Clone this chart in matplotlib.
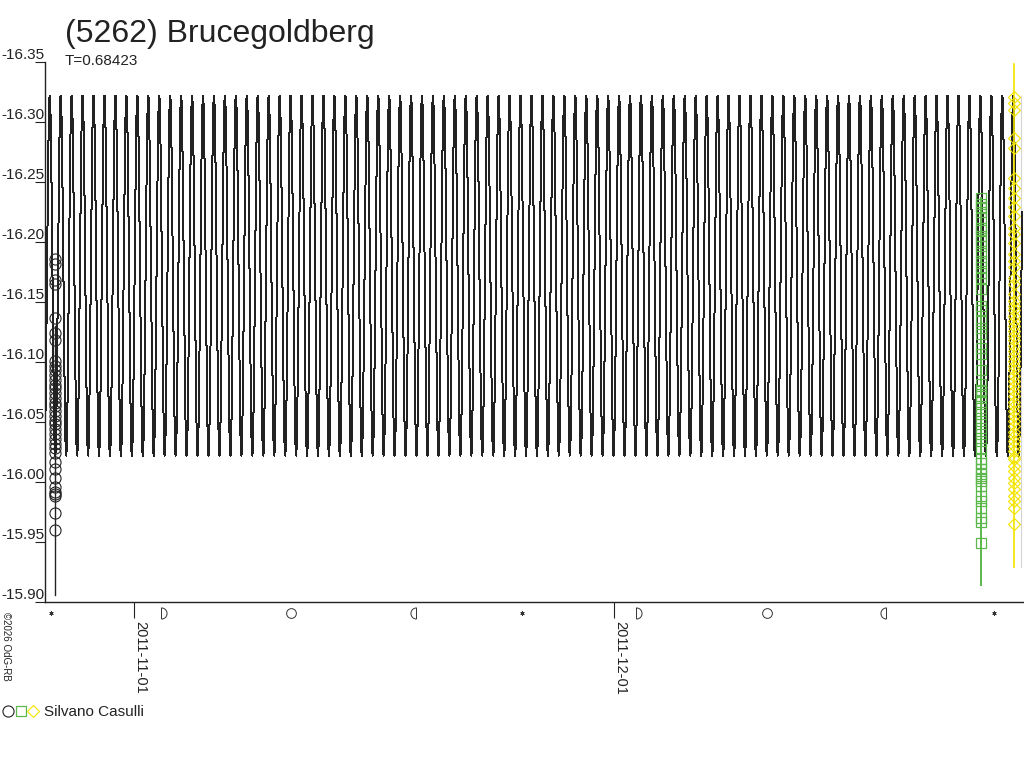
import numpy as np
import matplotlib
matplotlib.use('Agg')
import matplotlib.pyplot as plt
import matplotlib.dates as mdates
from matplotlib.path import Path
from matplotlib.transforms import blended_transform_factory
from matplotlib.legend_handler import HandlerTuple
from datetime import datetime

# ---- data -------------------------------------------------------------
title = '(5262) Brucegoldberg'
period = 0.68423            # days, shown as T=
model_mean = -16.172
model_amp = 0.150
model_start = datetime(2011, 10, 26, 11, 0)
model_end = datetime(2011, 12, 26, 12, 30)

# session dates
date_black = datetime(2011, 10, 27, 1, 50)
date_green = datetime(2011, 12, 23, 23, 0)
date_yellow = datetime(2011, 12, 26, 0, 40)
date_gray = datetime(2011, 12, 26, 10, 30)

mag_black = [-16.186, -16.182, -16.168, -16.165, -16.137, -16.124, -16.118,
             -16.101, -16.097, -16.093, -16.089, -16.085, -16.081, -16.078,
             -16.074, -16.070, -16.066, -16.063, -16.059, -16.055, -16.051,
             -16.048, -16.044, -16.040, -16.036, -16.032, -16.028, -16.024,
             -16.017, -16.011, -16.003, -15.996, -15.992, -15.990, -15.988,
             -15.974, -15.960]
mag_green = [-16.237, -16.232, -16.229, -16.225, -16.220, -16.212, -16.210,
             -16.205, -16.201, -16.197, -16.191, -16.184, -16.179, -16.174,
             -16.170, -16.161, -16.147, -16.143, -16.134, -16.128, -16.123,
             -16.112, -16.107, -16.093, -16.082, -16.077, -16.076, -16.072,
             -16.067, -16.062, -16.057, -16.051, -16.045, -16.040, -16.034,
             -16.028, -16.019, -16.016, -16.011, -16.007, -16.003, -16.001,
             -15.997, -15.988, -15.984, -15.978, -15.970, -15.967, -15.949]
mag_yellow = [-16.321, -16.316, -16.310, -16.287, -16.278, -16.253, -16.245,
              -16.237, -16.229, -16.222, -16.212, -16.207, -16.199, -16.190,
              -16.184, -16.179, -16.170, -16.165, -16.157, -16.151, -16.147,
              -16.143, -16.138, -16.134, -16.130, -16.126, -16.122, -16.118,
              -16.113, -16.109, -16.105, -16.101, -16.097, -16.093, -16.088,
              -16.084, -16.080, -16.076, -16.072, -16.067, -16.063, -16.059,
              -16.055, -16.051, -16.047, -16.042, -16.038, -16.034, -16.030,
              -16.026, -16.021, -16.019, -16.013, -16.009, -16.003, -15.999,
              -15.994, -15.988, -15.984, -15.978, -15.965]
# vertical extent of each session's line
span_black = [-16.130, -15.906]
span_green = [-16.237, -15.914]
span_yellow = [-16.348, -15.929]
span_gray = [-16.322, -15.929]

observer = 'Silvano Casulli'

# moon phases (UTC)
moon_new = [datetime(2011, 10, 26, 19, 56), datetime(2011, 11, 25, 6, 10),
            datetime(2011, 12, 24, 18, 6)]
moon_fq = [datetime(2011, 11, 2, 16, 38), datetime(2011, 12, 2, 9, 52)]
moon_full = [datetime(2011, 11, 10, 20, 16), datetime(2011, 12, 10, 14, 36)]
moon_lq = [datetime(2011, 11, 18, 15, 9), datetime(2011, 12, 18, 0, 48)]

xticks = [datetime(2011, 11, 1), datetime(2011, 12, 1)]
yticks = [-16.35, -16.30, -16.25, -16.20, -16.15, -16.10, -16.05, -16.00, -15.95, -15.90]

# ---- plot ----------------------------------------------------------------
plt.rcParams['font.family'] = ['Liberation Sans', 'DejaVu Sans']
ink = '#222222'

fig = plt.figure(figsize=(10.24, 7.68), dpi=100)
ax = fig.add_axes([45/1024, 1-602/768, 1-45/1024, 540/768])

# model lightcurve
t0 = mdates.date2num(model_start)
t1 = mdates.date2num(model_end)
tm = np.arange(t0, t1, 0.004)
ax.plot(tm, model_mean + model_amp*np.sin(2*np.pi*(tm - t0)/period + 2.0),
        color=ink, lw=0.72, antialiased=False, zorder=2)

# session lines
ax.plot([date_gray]*2, span_gray, color='#d4d4d4', lw=0.8, zorder=1)
ax.plot([date_black]*2, span_black, color=ink, lw=1.0, zorder=3)
ax.plot([date_green]*2, span_green, color='#5cb84a', lw=1.4, zorder=3)
ax.plot([date_yellow]*2, span_yellow, color='#f2e400', lw=1.2, zorder=3)

# observations
h1, = ax.plot([date_black]*len(mag_black), mag_black, 'o', ms=8, mfc='none',
              mec=ink, mew=0.8, zorder=4)
h2, = ax.plot([date_green]*len(mag_green), mag_green, 's', ms=6.5, mfc='none',
              mec='#5cb84a', mew=0.9, zorder=4)
h3, = ax.plot([date_yellow]*len(mag_yellow), mag_yellow, 'D', ms=6.5, mfc='none',
              mec='#f2e400', mew=0.8, zorder=4)

ax.set_xlim(model_start, datetime(2011, 12, 26, 15, 20))
ax.set_ylim(-15.90, -16.35)

# moon phase symbols below the axis
th = np.linspace(-90, 90, 25)
fq_path = Path(np.vstack([np.column_stack([np.cos(np.radians(th)), np.sin(np.radians(th))]),
                          [[0, 1], [0, -1]]]))
lq_path = Path(np.vstack([np.column_stack([-np.cos(np.radians(th)), np.sin(np.radians(th))]),
                          [[0, 1], [0, -1]]]))
trans = blended_transform_factory(ax.transData, ax.transAxes)
ym = -11/540
ax.plot(moon_new, [ym]*len(moon_new), marker=(6, 2, 0), ms=3, lw=0, color='#333333',
        mew=0.6, transform=trans, clip_on=False)
ax.plot(moon_fq, [ym]*len(moon_fq), marker=fq_path, ms=8, lw=0, mfc='none',
        mec='#333333', mew=0.7, transform=trans, clip_on=False)
ax.plot(moon_full, [ym]*len(moon_full), 'o', ms=7, lw=0, mfc='none',
        mec='#333333', mew=0.7, transform=trans, clip_on=False)
ax.plot(moon_lq, [ym]*len(moon_lq), marker=lq_path, ms=8, lw=0, mfc='none',
        mec='#333333', mew=0.7, transform=trans, clip_on=False)

# axes styling
for s in ['top', 'right']:
    ax.spines[s].set_visible(False)
for s in ['left', 'bottom']:
    ax.spines[s].set_color(ink)
    ax.spines[s].set_linewidth(1.0)

ax.set_xticks(xticks)
ax.set_xticklabels([d.strftime('%Y-%m-%d') for d in xticks])
ax.tick_params(axis='x', direction='out', length=11.5, width=0.8, pad=2,
               labelsize=10.5, colors=ink, rotation=270)
plt.setp(ax.get_xticklabels(), ha='left', va='top')

ax.set_yticks(yticks)
ax.set_yticklabels(['%.2f' % v for v in yticks])
ax.tick_params(axis='y', direction='out', length=7, width=0.8, pad=-7,
               labelsize=11, colors=ink)
plt.setp(ax.get_yticklabels(), va='bottom')

fig.text(65/1024, 1-42/768, title, fontsize=23, color=ink)
fig.text(65/1024, 1-65/768, 'T=%.5f' % period, fontsize=11, color=ink)
fig.text(0.001, 1-612/768, '\u00a92026 OdG-RB', rotation=270, fontsize=7,
         ha='left', va='top', color=ink)

fig.legend([(h1, h2, h3)], [observer], loc='center left',
           bbox_to_anchor=(0.0, 1-712/768), frameon=False,
           handler_map={tuple: HandlerTuple(ndivide=None, pad=0.1)},
           handlelength=2.3, handletextpad=0.4, borderpad=0.2,
           borderaxespad=0, fontsize=11, labelcolor=ink)

fig.savefig('out.png', dpi=100)
